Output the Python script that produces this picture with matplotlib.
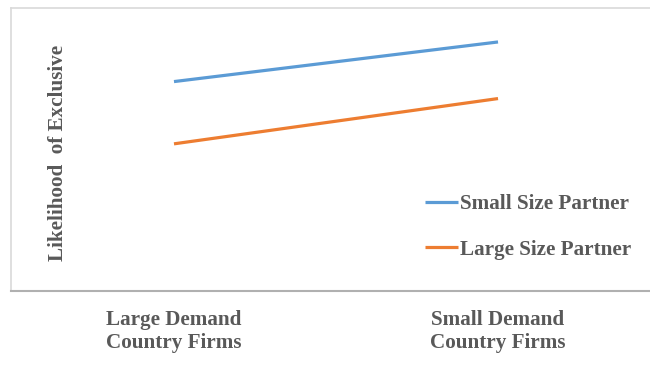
import matplotlib.pyplot as plt

categories = ["Large Demand\nCountry Firms", "Small Demand\nCountry Firms"]
series_names = ["Small Size Partner", "Large Size Partner"]
small_partner = [3.7, 4.4]
large_partner = [2.6, 3.4]
colors = ["#5B9BD5", "#ED7D31"]

TEXT = "#595959"
FONT = "Liberation Serif"
FS = 15.2

fig = plt.figure(figsize=(6.5, 3.91), dpi=100)
ax = fig.add_axes([11 / 650, 100 / 391, 639 / 650, 283 / 391])

x = [0, 1]
for vals, name, c in zip([small_partner, large_partner], series_names, colors):
    ax.plot(x, vals, color=c, lw=2.3, label=name, solid_capstyle="butt")

ax.set_xlim(-0.503, 1.469)
ax.set_ylim(0, 5)

ax.set_xticks(x)
ax.set_xticklabels(categories, fontfamily=FONT, fontweight="bold",
                   fontsize=FS, color=TEXT, linespacing=1.15)
ax.tick_params(axis="x", length=0, pad=14)
ax.set_yticks([])

ax.set_ylabel("Likelihood  of Exclusive", fontfamily=FONT, fontweight="bold",
              fontsize=FS, color=TEXT, labelpad=0)
ax.yaxis.set_label_coords(57 / 639, 0.5 - 3 / 283)

for side in ["left", "top"]:
    ax.spines[side].set_color("#d9d9d9")
    ax.spines[side].set_linewidth(1.2)
ax.spines["right"].set_visible(False)
ax.spines["bottom"].set_color("#b0b0b0")
ax.spines["bottom"].set_linewidth(1.5)

leg = ax.legend(loc="center left", bbox_to_anchor=(425 / 650, 1 - 227 / 391),
                bbox_transform=fig.transFigure, frameon=False,
                borderpad=0, borderaxespad=0, handlelength=1.55,
                handletextpad=0.12, labelspacing=1.22,
                prop={"family": FONT, "weight": "bold", "size": FS})
for t in leg.get_texts():
    t.set_color(TEXT)

fig.savefig("out.png", dpi=100)
